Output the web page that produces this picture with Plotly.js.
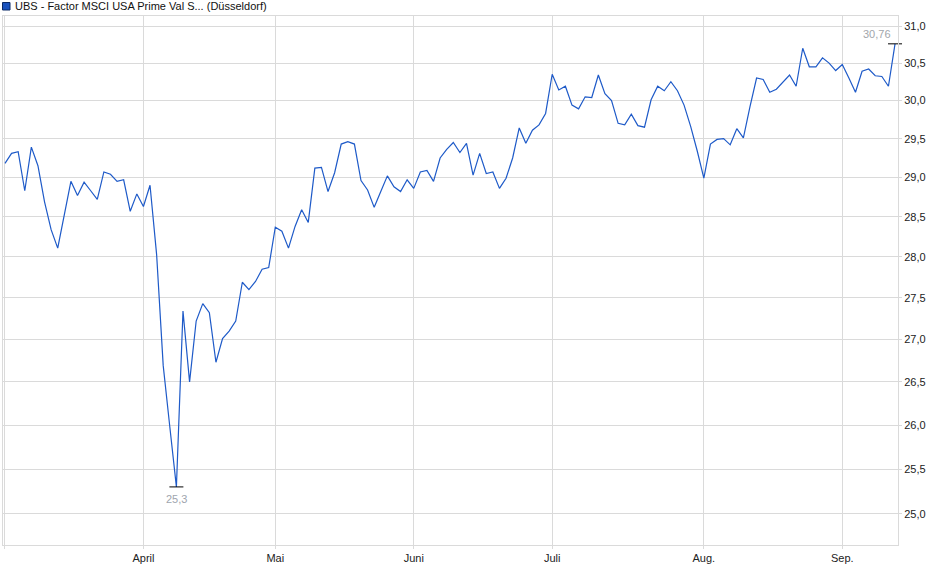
<!DOCTYPE html>
<html>
<head>
<meta charset="utf-8">
<script src="https://cdn.plot.ly/plotly-3.0.1.min.js"></script>
<style>
  html, body { margin: 0; padding: 0; background: #fff; }
  #chart { width: 940px; height: 579px; }
</style>
</head>
<body>
<div id="chart"></div>
<script>
// closing prices, one per trading day (3 Mar - 11 Sep)
var prices = [
  29.18, 29.31, 29.33, 28.83, 29.39, 29.15, 28.69, 28.34, 28.11, 28.53,
  28.95, 28.77, 28.94, 28.83, 28.72, 29.07, 29.04, 28.95, 28.97, 28.57,
  28.79, 28.63, 28.90, 28.03, 26.69, 25.98, 25.30, 27.34, 26.50, 27.22,
  27.43, 27.32, 26.73, 27.01, 27.10, 27.22, 27.69, 27.60, 27.70, 27.85,
  27.87, 28.37, 28.32, 28.11, 28.38, 28.59, 28.43, 29.12, 29.13, 28.82,
  29.06, 29.43, 29.46, 29.43, 28.96, 28.84, 28.62, 28.82, 29.02, 28.88,
  28.82, 28.97, 28.86, 29.07, 29.09, 28.95, 29.25, 29.36, 29.45, 29.32,
  29.44, 29.03, 29.31, 29.05, 29.07, 28.86, 28.99, 29.25, 29.64, 29.44,
  29.61, 29.68, 29.83, 30.35, 30.14, 30.19, 29.94, 29.89, 30.05, 30.04,
  30.34, 30.09, 30.00, 29.70, 29.68, 29.82, 29.67, 29.65, 30.01, 30.19,
  30.13, 30.25, 30.13, 29.94, 29.66, 29.34, 28.99, 29.43, 29.49, 29.50,
  29.42, 29.63, 29.51, 29.92, 30.30, 30.28, 30.11, 30.15, 30.24, 30.34,
  30.19, 30.70, 30.45, 30.45, 30.57, 30.50, 30.40, 30.48, 30.30, 30.11,
  30.39, 30.42, 30.33, 30.32, 30.19, 30.76
];

// first trading day of each month (index into prices)
var monthStart = [0, 21, 41, 62, 83, 106, 127];
var monthNames = ['', 'April', 'Mai', 'Juni', 'Juli', 'Aug.', 'Sep.'];

var yTicks = [25, 25.5, 26, 26.5, 27, 27.5, 28, 28.5, 29, 29.5, 30, 30.5, 31];

var title = 'UBS - Factor MSCI USA Prime Val S... (Düsseldorf)';

function fmt(v, d) {
  return v.toFixed(d).replace('.', ',');
}

var days = prices.map(function (p, i) { return i; });

var lo = Math.min.apply(null, prices);
var hi = Math.max.apply(null, prices);
var loIdx = prices.indexOf(lo);
var hiIdx = prices.indexOf(hi);

var line = {
  x: days,
  y: prices,
  type: 'scatter',
  mode: 'lines',
  line: { color: '#1e5ac8', width: 1.2 },
  hoverinfo: 'y',
  showlegend: false
};

var extremes = {
  x: [loIdx, hiIdx],
  y: [lo, hi],
  type: 'scatter',
  mode: 'markers',
  marker: { symbol: 'line-ew', size: 10, line: { color: '#000', width: 1 } },
  cliponaxis: false,
  hoverinfo: 'none',
  showlegend: false
};

var gridCol = '#dadada';

var layout = {
  width: 940,
  height: 579,
  margin: { t: 16, b: 34, l: 3, r: 42 },
  paper_bgcolor: '#fff',
  plot_bgcolor: '#fff',
  font: { family: 'Liberation Sans, Arial, sans-serif', size: 11, color: '#222' },
  showlegend: false,
  xaxis: {
    range: [-0.3, 135.45],
    tickvals: monthStart,
    ticktext: monthNames,
    showgrid: true,
    gridcolor: gridCol,
    zeroline: false,
    showline: true,
    linecolor: gridCol,
    mirror: true,
    ticks: 'outside',
    ticklen: 3,
    tickcolor: gridCol,
    fixedrange: true
  },
  yaxis: {
    type: 'log',
    side: 'right',
    range: [Math.log10(24.66), Math.log10(31.14)],
    tickvals: yTicks,
    ticktext: yTicks.map(function (v) { return fmt(v, 1); }),
    showgrid: true,
    gridcolor: gridCol,
    zeroline: false,
    showline: true,
    linecolor: gridCol,
    mirror: true,
    ticks: 'outside',
    ticklen: 3,
    tickcolor: gridCol,
    fixedrange: true
  },
  shapes: [{
    type: 'rect',
    xref: 'paper', xsizemode: 'pixel', xanchor: 0, x0: -0.5, x1: 7,
    yref: 'paper', ysizemode: 'pixel', yanchor: 1, y0: 6, y1: 13.5,
    fillcolor: '#1a52bd',
    line: { color: '#0b2a66', width: 1 }
  }],
  annotations: [
    {
      xref: 'paper', yref: 'paper', x: 0, y: 1,
      xanchor: 'left', yanchor: 'middle', xshift: 10, yshift: 10,
      text: title, showarrow: false,
      font: { size: 11, color: '#111' }
    },
    {
      x: loIdx, y: Math.log10(lo),
      xanchor: 'center', yanchor: 'top', yshift: -4,
      text: fmt(lo, 1), showarrow: false,
      font: { size: 11, color: '#9ea5ae' }
    },
    {
      x: hiIdx, y: Math.log10(hi),
      xanchor: 'right', yanchor: 'bottom', xshift: -2, yshift: 2,
      text: fmt(hi, 2), showarrow: false,
      font: { size: 11, color: '#a2a6ab' }
    }
  ]
};

Plotly.newPlot('chart', [line, extremes], layout, { displayModeBar: false, staticPlot: true });
</script>
</body>
</html>
